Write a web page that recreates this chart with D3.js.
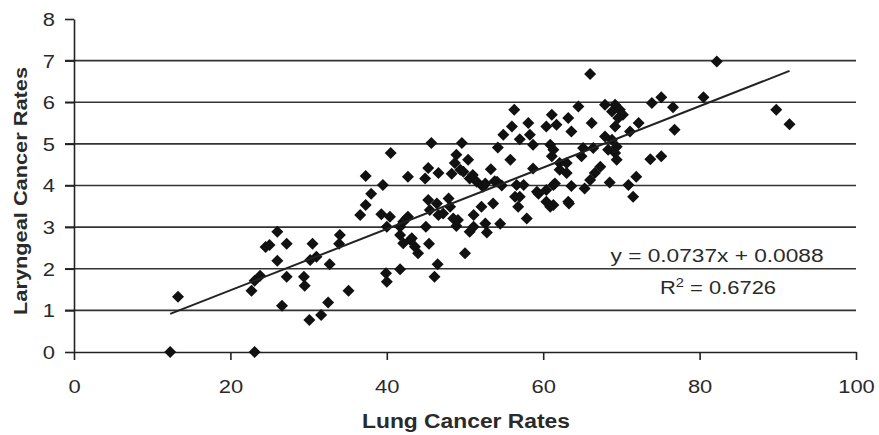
<!DOCTYPE html>
<html>
<head>
<meta charset="utf-8">
<script src="https://cdn.jsdelivr.net/npm/d3@7"></script>
<style>
  body { margin: 0; background: #fff; }
  svg { display: block; font-family: "Liberation Sans", Arial, sans-serif; }
</style>
</head>
<body>
<svg id="chart" width="879" height="435"></svg>
<script>
// lung cancer rate (x) vs laryngeal cancer rate (y)
const lung = [
  12.3, 13.3, 23.1, 22.7, 23.1, 23.8, 24.5, 25.0, 26.0, 27.2, 26.0, 27.2, 26.6,
  30.5, 31.0, 30.2, 29.4, 29.5, 30.1, 31.6, 32.5, 32.7, 34.0, 33.9, 35.1,
  37.3, 39.5, 38.0, 37.3, 36.6, 39.3, 40.4, 40.0, 39.9, 40.0, 40.5, 42.7,
  42.5, 42.1, 41.7, 42.1, 43.2, 43.6, 44.0, 41.7, 42.7, 41.7, 45.0, 45.4,
  50.0, 46.5, 46.1, 43.0,
  45.7, 49.6, 48.9, 48.7, 50.4, 49.4, 45.3, 46.6, 44.9, 48.3, 49.8, 50.6,
  51.5, 52.6, 53.8, 53.3, 52.3, 51.0, 54.7,
  45.3, 46.4, 47.9, 48.1, 47.2, 49.1, 46.6, 45.5, 48.5, 48.9, 52.1, 51.1,
  53.6, 52.6, 50.6, 52.8, 54.5, 51.1,
  54.9, 56.0, 56.3, 58.1, 58.3, 57.0, 58.7, 54.2, 55.8, 58.7, 54.1, 56.6,
  57.5, 56.4, 56.8, 57.9, 59.2, 60.4, 60.9, 61.5, 63.2, 60.4, 61.3, 63.3,
  57.0, 59.4,
  60.4, 61.1, 61.7, 63.2, 63.6, 60.9, 61.3, 61.1, 62.1, 63.0, 62.1, 63.0,
  61.3, 63.6, 65.3, 64.5, 66.0, 67.9, 69.2, 69.8, 68.8, 70.2, 69.6, 66.2,
  69.2, 72.2, 71.1, 76.8, 67.9, 68.8, 69.4, 68.3, 69.2, 69.4, 65.1, 66.4,
  64.9, 73.7, 75.1, 67.3, 66.6, 66.0, 71.9, 70.9, 71.5, 68.5, 75.1, 73.9,
  80.5, 76.6, 82.2, 89.8, 91.5
];
const larynx = [
  0.00, 1.33, 0.00, 1.47, 1.71, 1.83, 2.52, 2.57, 2.89, 2.60, 2.19, 1.81, 1.11,
  2.60, 2.29, 2.21, 1.81, 1.59, 0.77, 0.89, 1.19, 2.11, 2.81, 2.60, 1.47,
  4.23, 4.01, 3.80, 3.53, 3.29, 3.31, 3.25, 3.01, 1.89, 1.69, 4.78, 4.21,
  3.21, 3.13, 2.81, 2.61, 2.73, 2.53, 2.37, 1.99, 3.25, 3.01, 3.01, 2.60,
  2.37, 2.11, 1.81, 2.69,
  5.02, 5.02, 4.74, 4.54, 4.62, 4.38, 4.42, 4.30, 4.17, 4.28, 4.33, 4.17,
  4.09, 4.05, 4.10, 4.39, 3.97, 4.25, 4.00,
  3.65, 3.57, 3.69, 3.49, 3.33, 3.17, 3.29, 3.41, 3.21, 3.03, 3.49, 3.29,
  3.57, 3.09, 2.89, 2.87, 3.08, 3.01,
  5.22, 5.42, 5.82, 5.50, 5.22, 5.11, 4.98, 4.91, 4.62, 4.41, 4.09, 4.01,
  4.01, 3.73, 3.49, 3.21, 3.85, 3.61, 3.49, 4.05, 3.61, 3.89, 3.53, 3.57,
  3.73, 3.80,
  5.42, 5.70, 5.46, 5.62, 5.30, 4.98, 4.86, 4.70, 4.54, 4.54, 4.38, 4.30,
  4.01, 3.99, 3.93, 5.90, 6.68, 5.94, 5.94, 5.82, 5.78, 5.70, 5.62, 5.50,
  5.42, 5.50, 5.30, 5.34, 5.18, 5.10, 4.93, 4.86, 4.78, 4.62, 4.90, 4.90,
  4.70, 4.63, 4.70, 4.45, 4.30, 4.13, 4.21, 4.01, 3.73, 4.07, 6.12, 5.98,
  6.12, 5.88, 6.98, 5.82, 5.47
];
const xTicks = [0, 20, 40, 60, 80, 100];
const yTicks = [0, 1, 2, 3, 4, 5, 6, 7, 8];
const gridValues = [1, 2, 3, 4, 5, 6, 7];
const slope = 0.0737;
const intercept = 0.0088;
const eqLabel = "y = 0.0737x + 0.0088";
const r2Value = "0.6726";

const points = lung.map((v, i) => ({ x: v, y: larynx[i] }));

const svg = d3.select("#chart");
const x = d3.scaleLinear().domain([0, 100]).range([74, 856]);
const y = d3.scaleLinear().domain([0, 8]).range([352, 19]);
const ink = "#222";

// horizontal gridlines
svg.append("g")
    .selectAll("line")
    .data(gridValues)
    .enter()
    .append("line")
    .attr("x1", 65)
    .attr("x2", 856)
    .attr("y1", d => y(d))
    .attr("y2", d => y(d))
    .attr("stroke", "#333")
    .attr("stroke-width", 1.6);

// axes
const xAxis = svg.append("g")
    .attr("transform", "translate(0,352)")
    .call(d3.axisBottom(x).tickValues(xTicks).tickSize(8).tickSizeOuter(0));
const yAxis = svg.append("g")
    .attr("transform", "translate(74,0)")
    .call(d3.axisLeft(y).tickValues(yTicks).tickSize(9).tickSizeOuter(0));

[xAxis, yAxis].forEach(ax => {
    ax.select(".domain").attr("stroke", ink).attr("stroke-width", 1.6);
    ax.selectAll(".tick line").attr("stroke", ink).attr("stroke-width", 1.6);
    ax.selectAll(".tick text")
        .attr("fill", "#2a2a2a")
        .style("font-size", "18px")
        .style("font-family", "Liberation Sans, Arial, sans-serif");
});
xAxis.selectAll(".tick text")
    .attr("y", 41)
    .attr("dy", 0)
    .attr("transform", "scale(1.22,1)");
yAxis.selectAll(".tick text")
    .attr("x", -19 / 1.22)
    .attr("dy", "0.36em")
    .attr("transform", "scale(1.22,1)");

// points
svg.append("g")
    .selectAll("path")
    .data(points)
    .enter()
    .append("path")
    .attr("d", d3.symbol(d3.symbolSquare, 72))
    .attr("transform", d => "translate(" + x(d.x) + "," + y(d.y) + ") rotate(45)")
    .attr("fill", "#111");

// trend line over data range
const [xMin, xMax] = d3.extent(lung);
svg.append("line")
    .attr("x1", x(xMin))
    .attr("y1", y(slope * xMin + intercept))
    .attr("x2", x(xMax))
    .attr("y2", y(slope * xMax + intercept))
    .attr("stroke", ink)
    .attr("stroke-width", 2);

// equation and r squared
svg.append("text")
    .attr("x", 717)
    .attr("y", 262)
    .attr("text-anchor", "middle")
    .attr("fill", "#2a2a2a")
    .style("font-size", "18px")
    .attr("textLength", 213)
    .attr("lengthAdjust", "spacingAndGlyphs")
    .text(eqLabel);

const r2 = svg.append("text")
    .attr("transform", "translate(718,294) scale(1.22,1)")
    .attr("text-anchor", "middle")
    .attr("fill", "#2a2a2a")
    .style("font-size", "18px");
r2.append("tspan").text("R");
r2.append("tspan").attr("dy", -7).style("font-size", "12px").text("2");
r2.append("tspan").attr("dy", 7).text(" = " + r2Value);

// axis titles
svg.append("text")
    .attr("x", 466)
    .attr("y", 428)
    .attr("text-anchor", "middle")
    .attr("fill", "#2a2a2a")
    .style("font-size", "20px")
    .style("font-weight", "bold")
    .attr("textLength", 208)
    .attr("lengthAdjust", "spacingAndGlyphs")
    .text("Lung Cancer Rates");

svg.append("text")
    .attr("transform", "translate(27,191) rotate(-90)")
    .attr("text-anchor", "middle")
    .attr("fill", "#2a2a2a")
    .style("font-size", "19px")
    .style("font-weight", "bold")
    .attr("textLength", 248)
    .attr("lengthAdjust", "spacingAndGlyphs")
    .text("Laryngeal Cancer Rates");
</script>
</body>
</html>
